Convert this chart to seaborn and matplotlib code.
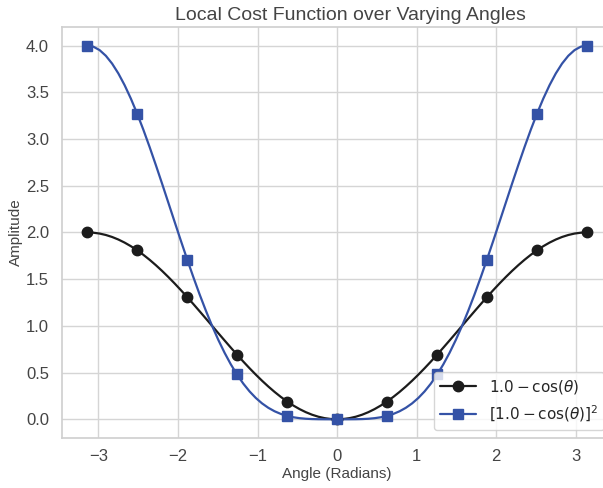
import numpy as np
import pandas as pd
import matplotlib
matplotlib.use("Agg")
import matplotlib.pyplot as plt
import seaborn as sns
from matplotlib.lines import Line2D

# dense curve samples for angles 0..pi (mirrored for negative angles)
theta_pos = [0.0, 0.0785, 0.1571, 0.2356, 0.3142, 0.3927, 0.4712, 0.5498, 0.6283, 0.7069,
             0.7854, 0.8639, 0.9425, 1.0210, 1.0996, 1.1781, 1.2566, 1.3352, 1.4137, 1.4923,
             1.5708, 1.6493, 1.7279, 1.8064, 1.8850, 1.9635, 2.0420, 2.1206, 2.1991, 2.2777,
             2.3562, 2.4347, 2.5133, 2.5918, 2.6704, 2.7489, 2.8274, 2.9060, 2.9845, 3.0631,
             3.1416]
cost_pos = [0.0, 0.0031, 0.0123, 0.0276, 0.0489, 0.0761, 0.1090, 0.1474, 0.1910, 0.2396,
            0.2929, 0.3506, 0.4122, 0.4775, 0.5460, 0.6173, 0.6910, 0.7666, 0.8436, 0.9215,
            1.0, 1.0785, 1.1564, 1.2334, 1.3090, 1.3827, 1.4540, 1.5225, 1.5878, 1.6494,
            1.7071, 1.7604, 1.8090, 1.8526, 1.8910, 1.9239, 1.9511, 1.9724, 1.9877, 1.9969,
            2.0]
sq_pos = [0.0, 0.0000, 0.0002, 0.0008, 0.0024, 0.0058, 0.0119, 0.0217, 0.0365, 0.0574,
          0.0858, 0.1229, 0.1699, 0.2280, 0.2981, 0.3811, 0.4775, 0.5876, 0.7116, 0.8492,
          1.0, 1.1631, 1.3373, 1.5214, 1.7135, 1.9118, 2.1141, 2.3180, 2.5211, 2.7207,
          2.9142, 3.0990, 3.2725, 3.4323, 3.5759, 3.7013, 3.8066, 3.8902, 3.9509, 3.9877,
          4.0]

# marker samples
marker_theta = [-3.1416, -2.5133, -1.8850, -1.2566, -0.6283, 0.0, 0.6283, 1.2566, 1.8850, 2.5133, 3.1416]
cost_marks = [2.0, 1.81, 1.31, 0.69, 0.19, 0.0, 0.19, 0.69, 1.31, 1.81, 2.0]
sq_marks = [4.0, 3.27, 1.71, 0.48, 0.04, 0.0, 0.04, 0.48, 1.71, 3.27, 4.0]

label1 = r"$1.0 - \cos(\theta)$"
label2 = r"$[1.0 - \cos(\theta)]^2$"

curve_theta = [-t for t in theta_pos[:0:-1]] + theta_pos
cost_curve = cost_pos[:0:-1] + cost_pos
sq_curve = sq_pos[:0:-1] + sq_pos

sns.set_theme(style="whitegrid", context="notebook")
plt.rcParams['font.family'] = ['Liberation Sans', 'DejaVu Sans']
plt.rcParams['axes.edgecolor'] = '#d0d0d0'
plt.rcParams['grid.color'] = '#d5d5d5'

black = "#1c1c1c"
blue = "#3452a6"
txt = "#444444"

fig = plt.figure(figsize=(6.03, 4.88), dpi=100)
ax = fig.add_axes([0.103, 0.1025, 0.912, 0.8425])

dfc = pd.DataFrame({"theta": curve_theta, "a": cost_curve, "b": sq_curve})
sns.lineplot(data=dfc, x="theta", y="a", ax=ax, color=black, lw=1.6, legend=False)
sns.lineplot(data=dfc, x="theta", y="b", ax=ax, color=blue, lw=1.6, legend=False)
ax.plot(marker_theta, cost_marks, 'o', color=black, ms=7.5)
ax.plot(marker_theta, sq_marks, 's', color=blue, ms=7.5)

h1 = Line2D([], [], color=black, lw=1.6, marker='o', ms=7.5)
h2 = Line2D([], [], color=blue, lw=1.6, marker='s', ms=7.5)
ax.legend([h1, h2], [label1, label2], loc="lower right", fontsize=11, frameon=True,
          borderaxespad=0.5, bbox_to_anchor=(1.0, 0.0), handlelength=2.4)

ax.set_title("Local Cost Function over Varying Angles", fontsize=14, color=txt, x=0.524, pad=5)
ax.set_xlabel("Angle (Radians)", fontsize=11, color=txt, labelpad=2)
ax.set_ylabel("Amplitude", fontsize=11, color=txt, labelpad=2)
ax.tick_params(labelsize=12, colors=txt)
ax.tick_params(axis="x", pad=2)
ax.set_yticks(np.arange(0, 4.01, 0.5))
ax.set_xticks([-3, -2, -1, 0, 1, 2, 3])

fig.savefig("out.png", dpi=100)
